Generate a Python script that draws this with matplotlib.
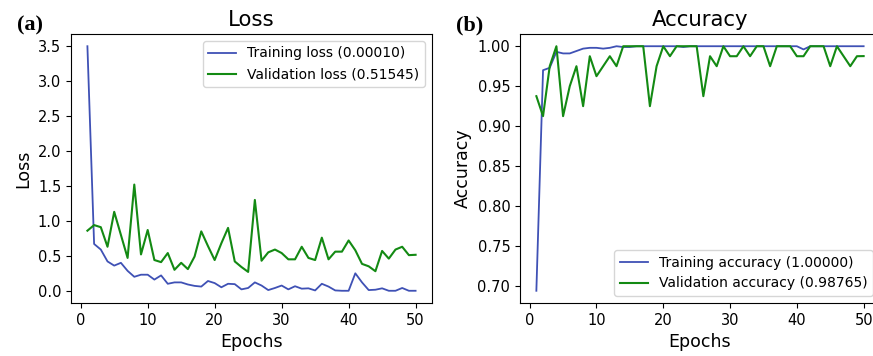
import matplotlib
matplotlib.use("Agg")
import matplotlib.pyplot as plt
import numpy as np

epochs = list(range(1, 51))

train_loss = [3.50, 0.67, 0.59, 0.42, 0.36, 0.40, 0.285, 0.20, 0.23, 0.23,
              0.16, 0.22, 0.10, 0.12, 0.12, 0.09, 0.07, 0.06, 0.14, 0.11,
              0.05, 0.10, 0.095, 0.02, 0.04, 0.12, 0.075, 0.01, 0.04, 0.075,
              0.02, 0.065, 0.03, 0.035, 0.005, 0.10, 0.06, 0.005, 0.0, 0.0,
              0.25, 0.12, 0.01, 0.015, 0.035, 0.0, 0.0, 0.04, 0.0, 0.0001]
val_loss = [0.86, 0.94, 0.91, 0.63, 1.13, 0.80, 0.47, 1.52, 0.52, 0.87,
            0.44, 0.41, 0.54, 0.30, 0.40, 0.31, 0.49, 0.85, 0.64, 0.44,
            0.68, 0.90, 0.42, 0.34, 0.27, 1.30, 0.43, 0.55, 0.59, 0.54,
            0.45, 0.45, 0.63, 0.47, 0.44, 0.76, 0.45, 0.56, 0.56, 0.72,
            0.58, 0.385, 0.35, 0.28, 0.57, 0.46, 0.59, 0.63, 0.51, 0.515]

train_acc = [0.694, 0.970, 0.973, 0.993, 0.991, 0.991, 0.994, 0.997, 0.998, 0.998,
             0.997, 0.998, 1.0, 0.999, 0.999, 1.0, 1.0, 1.0, 1.0, 1.0,
             1.0, 1.0, 0.999, 1.0, 1.0, 1.0, 1.0, 1.0, 1.0, 1.0,
             1.0, 1.0, 1.0, 1.0, 1.0, 1.0, 1.0, 1.0, 1.0, 1.0,
             0.996, 1.0, 1.0, 1.0, 1.0, 1.0, 1.0, 1.0, 1.0, 1.0]
val_acc = [0.9375, 0.9125, 0.975, 1.0, 0.9125, 0.95, 0.975, 0.925, 0.9875, 0.9625,
           0.975, 0.9875, 0.975, 1.0, 1.0, 1.0, 1.0, 0.925, 0.975, 1.0,
           0.9875, 1.0, 1.0, 1.0, 1.0, 0.9375, 0.9875, 0.975, 1.0, 0.9875,
           0.9875, 1.0, 0.9875, 1.0, 1.0, 0.975, 1.0, 1.0, 1.0, 0.9875,
           0.9875, 1.0, 1.0, 1.0, 0.975, 1.0, 0.9875, 0.975, 0.9875, 0.98765]

blue = "#3F51B5"
green = "#138A13"

fig = plt.figure(figsize=(8.73, 3.56), dpi=100)
ax1 = fig.add_axes([71/873, 1-303/356, 361/873, 269/356])
ax2 = fig.add_axes([520/873, 1-303/356, 360/873, 269/356])

ax1.plot(epochs, train_loss, color=blue, lw=1.3, label="Training loss (0.00010)")
ax1.plot(epochs, val_loss, color=green, lw=1.5, label="Validation loss (0.51545)")
ax1.set_title("Loss", fontsize=15.3)
ax1.set_xlabel("Epochs", fontsize=12.5)
ax1.set_ylabel("Loss", fontsize=12.5)
ax1.set_yticks([0.0, 0.5, 1.0, 1.5, 2.0, 2.5, 3.0, 3.5])
ax1.set_xticks([0, 10, 20, 30, 40, 50])
ax1.tick_params(labelsize=10.5)
ax1.legend(loc="upper right", fontsize=10)

ax2.plot(epochs, train_acc, color=blue, lw=1.3, label="Training accuracy (1.00000)")
ax2.plot(epochs, val_acc, color=green, lw=1.5, label="Validation accuracy (0.98765)")
ax2.set_title("Accuracy", fontsize=15.3)
ax2.set_xlabel("Epochs", fontsize=12.5)
ax2.set_ylabel("Accuracy", fontsize=12.5)
ax2.set_yticks([0.70, 0.75, 0.80, 0.85, 0.90, 0.95, 1.00])
ax2.set_xticks([0, 10, 20, 30, 40, 50])
ax2.tick_params(labelsize=10.5)
ax2.legend(loc="lower right", fontsize=10)

fig.text(17/873, 1-30/356, "(a)", fontsize=16, fontweight="bold",
         family="Liberation Serif", va="baseline", ha="left")
fig.text(456/873, 1-30/356, "(b)", fontsize=16, fontweight="bold",
         family="Liberation Serif", va="baseline", ha="left")

fig.savefig("out.png", dpi=100)
